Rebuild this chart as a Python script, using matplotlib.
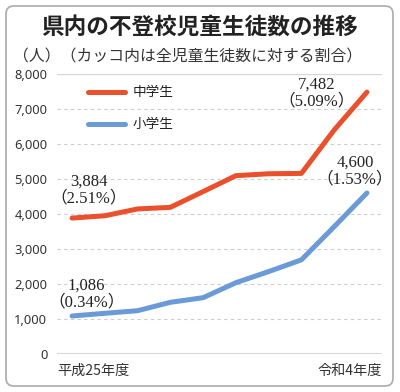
import matplotlib.pyplot as plt
from matplotlib.patches import FancyBboxPatch
import numpy as np

plt.rcParams['font.family'] = ['Noto Sans CJK JP', 'DejaVu Sans']

# data
years = ['平成25年度', '平成26年度', '平成27年度', '平成28年度', '平成29年度',
         '平成30年度', '令和元年度', '令和2年度', '令和3年度', '令和4年度']
junior = [3884, 3950, 4145, 4190, 4640, 5095, 5150, 5160, 6400, 7482]
elem = [1086, 1163, 1237, 1477, 1609, 2037, 2355, 2690, 3638, 4600]
junior_rate = ['2.51%', '5.09%']
elem_rate = ['0.34%', '1.53%']
yticks = [0, 1000, 2000, 3000, 4000, 5000, 6000, 7000, 8000]

orange = '#E9502B'
blue = '#6A9BD6'

fig = plt.figure(figsize=(4.0, 3.92), dpi=100)

# rounded frame
frame = FancyBboxPatch((6 / 400, 6 / 392), 387 / 400, 380 / 392,
                       boxstyle='round,pad=0,rounding_size=0.02',
                       transform=fig.transFigure, facecolor='white',
                       edgecolor='#b0b0b0', linewidth=1.3, zorder=-5)
fig.patches.append(frame)

fig.text(0.5, 1 - 27 / 392, '県内の不登校児童生徒数の推移', ha='center', va='center',
         fontsize=16.3, fontweight='bold', color='#222222')
fig.text(13 / 400, 1 - 57 / 392, '（人）（カッコ内は全児童生徒数に対する割合）',
         ha='left', va='center', fontsize=11.4, color='#333333')

ax = fig.add_axes([57 / 400, 38 / 392, 325 / 400, 280 / 392])
ax.set_zorder(2)
x = np.arange(len(years))

ax.plot(x, junior, color=orange, lw=3.6, solid_capstyle='round', solid_joinstyle='round', zorder=3)
ax.plot(x, elem, color=blue, lw=3.6, solid_capstyle='round', solid_joinstyle='round', zorder=3)

ax.set_xlim(-0.46, len(years) - 1 + 0.46)
ax.set_ylim(0, 8000)

for v in yticks:
    if v == 0:
        ax.axhline(v, color='#d8d8d8', lw=1.5, zorder=1)
    elif v == 8000:
        ax.axhline(v, color='#d8d8d8', lw=1.0, zorder=1)
    else:
        ax.axhline(v, color='#cccccc', lw=0.8, ls=(0, (3, 3)), zorder=1)

ax.set_yticks(yticks)
ax.set_yticklabels([f'{v:,}' for v in yticks], fontsize=9.3, color='#333333',
                   family=['Noto Sans', 'DejaVu Sans'])
ax.set_xticks([])
for s in ax.spines.values():
    s.set_visible(False)
ax.tick_params(axis='y', length=0, pad=7)
ax.patch.set_alpha(0)

fig.text(57 / 400, 1 - 371 / 392, years[0], ha='left', va='center', fontsize=10.2, color='#333333')
fig.text(382 / 400, 1 - 371 / 392, years[-1], ha='right', va='center', fontsize=10.2, color='#333333')

# legend
lx0, lx1 = 88 / 400, 125 / 400
for yy, c, lab in [(92, orange, '中学生'), (124, blue, '小学生')]:
    fig.add_artist(plt.Line2D([lx0, lx1], [1 - yy / 392] * 2, color=c, lw=3.6,
                              solid_capstyle='round', transform=fig.transFigure))
    fig.text(133 / 400, 1 - yy / 392, lab, ha='left', va='center', fontsize=9.8, color='#222222')

# annotations
numfam = ['Liberation Serif', 'Noto Sans CJK JP']
px = 72 / 100  # points per pixel


def label(i, vals, rate, dx, dy):
    ax.annotate(f'{vals[i]:,}\n（{rate}）', (x[i], vals[i]),
                xytext=(dx * px, dy * px), textcoords='offset points',
                ha='center', va='center', fontsize=12, family=numfam,
                linespacing=1.0, color='#222222')


label(0, junior, junior_rate[0], 17, 28)
label(-1, junior, junior_rate[1], -50, -1)
label(0, elem, elem_rate[0], 14, 22)
label(-1, elem, elem_rate[1], -12, 22)

plt.savefig('out.png', dpi=100)
plt.close()
